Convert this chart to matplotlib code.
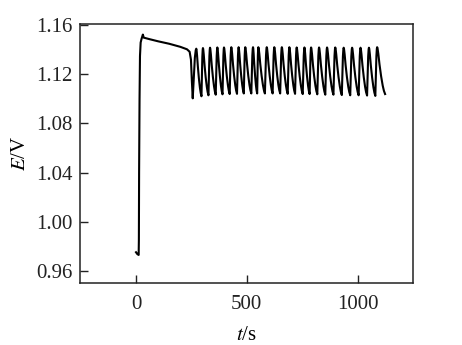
import numpy as np
import matplotlib.pyplot as plt

plt.rcParams['font.family'] = ['Liberation Serif', 'DejaVu Serif']
plt.rcParams['mathtext.fontset'] = 'stix'

# initial jump and slow plateau decay (t in s, E in V)
start_t = [0, 6, 12, 13, 14, 16, 18, 21, 25, 31, 35, 60, 100, 150, 200, 230, 242, 248, 252, 256]
start_E = [0.975, 0.9735, 0.9728, 0.985, 1.04, 1.10, 1.135, 1.146, 1.149, 1.1525, 1.1500,
           1.1488, 1.1470, 1.1450, 1.1425, 1.1405, 1.1385, 1.132, 1.115, 1.1005]

# oscillation peaks
peak_t = [272, 302, 334, 367, 397, 430, 463, 493, 528, 552, 590, 624, 658,
          692, 725, 760, 790, 826, 862, 899, 937, 975, 1013, 1051, 1088]
peak_E = [1.1410, 1.1415, 1.1418, 1.1420, 1.1420, 1.1422, 1.1422, 1.1422, 1.1422,
          1.1422, 1.1422, 1.1422, 1.1422, 1.1422, 1.1420, 1.1420, 1.1420, 1.1420,
          1.1420, 1.1420, 1.1418, 1.1418, 1.1418, 1.1418, 1.1422]
trough_E = [1.1022, 1.1030, 1.1035, 1.1038, 1.1040, 1.1042, 1.1045, 1.1045, 1.1045,
            1.1045, 1.1045, 1.1045, 1.1042, 1.1042, 1.1040, 1.1040, 1.1038, 1.1035,
            1.1035, 1.1032, 1.1030, 1.1030, 1.1028, 1.1025]
end_t = 1124
end_E = 1.1040

# one cycle's shape: fraction of the way between trough and peak
rise_pos = [0.0, 0.3, 0.6, 0.85, 1.0]
rise_frac = [0.0, 0.42, 0.82, 0.97, 1.0]
decay_pos = [0.05, 0.15, 0.3, 0.5, 0.7, 0.85, 1.0]
decay_frac = [0.98, 0.86, 0.63, 0.38, 0.18, 0.07, 0.0]

t = list(start_t)
E = list(start_E)
prev_trough_t = start_t[-1]
prev_trough_E = start_E[-1]
for k in range(len(peak_t)):
    p, pe = peak_t[k], peak_E[k]
    for pos, fr in zip(rise_pos[1:], rise_frac[1:]):
        t.append(prev_trough_t + pos * (p - prev_trough_t))
        E.append(prev_trough_E + fr * (pe - prev_trough_E))
    if k + 1 < len(peak_t):
        nt = p + 0.78 * (peak_t[k + 1] - p)
        ne = trough_E[k]
    else:
        nt, ne = end_t, end_E
    for pos, fr in zip(decay_pos, decay_frac):
        t.append(p + pos * (nt - p))
        E.append(ne + fr * (pe - ne))
    prev_trough_t, prev_trough_E = nt, ne

fig = plt.figure(figsize=(4.62, 3.45), dpi=100)
ax = fig.add_axes([0.173, 0.180, 0.721, 0.750])
ax.plot(t, E, color='black', lw=1.5)

ax.set_xlim(-253, 1250)
ax.set_ylim(0.950, 1.161)
ax.set_xticks([0, 500, 1000])
ax.set_yticks([0.96, 1.00, 1.04, 1.08, 1.12, 1.16])
ax.set_yticklabels(['0.96', '1.00', '1.04', '1.08', '1.12', '1.16'])
ax.tick_params(direction='in', length=6, width=1, labelsize=15, colors='#222222')
ax.tick_params(axis='y', pad=5)
ax.tick_params(axis='x', pad=9)
for s in ax.spines.values():
    s.set_linewidth(1.1)
    s.set_color('#222222')

ax.set_xlabel('$t$/s', fontsize=15, labelpad=8)
ax.set_ylabel('$E$/V', fontsize=15, labelpad=5)

fig.savefig('out.png', dpi=100)
